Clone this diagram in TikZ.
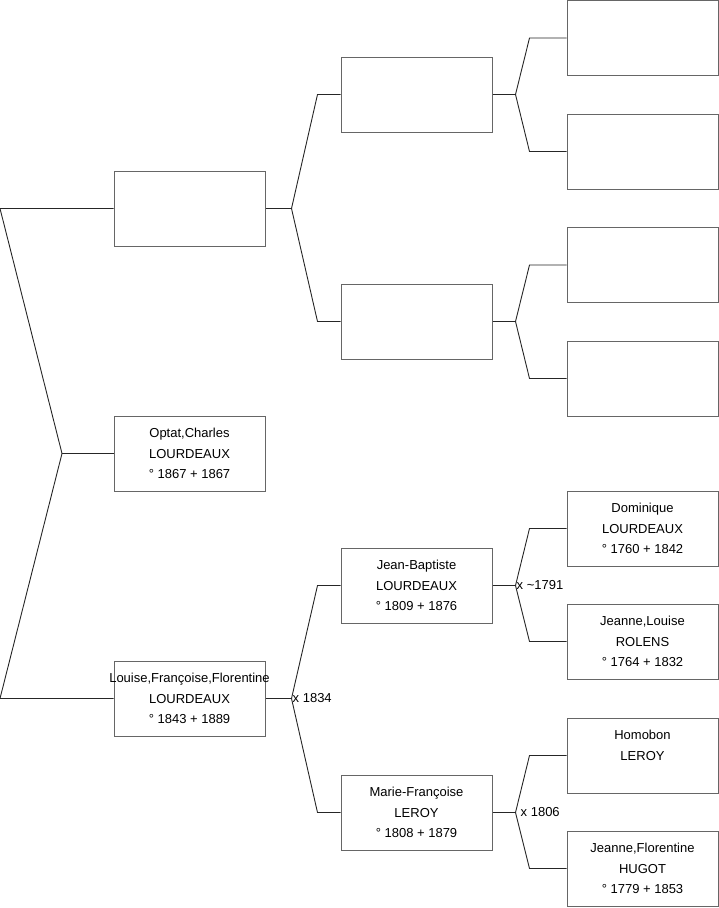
\documentclass[tikz,border=0pt]{standalone}
\usepackage{fontspec}
\setmainfont{Liberation Sans}
\usetikzlibrary{calc}

\begin{document}
\begin{tikzpicture}[
    x=1pt,
    y=-1pt,
    font=\fontsize{13}{20.5}\selectfont,
    person/.style={
      rectangle,
      draw=black!60,
      line width=1pt,
      minimum width=151pt,
      minimum height=75pt,
      align=center,
      inner sep=0pt
    },
    line/.style={draw, black!85, line width=0.9pt},
    union/.style={anchor=west, inner sep=1pt},
]
    \useasboundingbox (0,0) rectangle (719,908);

    % generation 1
    \node [person] (n2) at (189.5,208.5) {};
    \node [person] (n1) at (189.5,453.5) {Optat,Charles\\LOURDEAUX\\° 1867 + 1867};
    \node [person] (n3) at (189.5,698.5) {\makebox[0pt]{Louise,Françoise,Florentine}\\LOURDEAUX\\° 1843 + 1889};

    % generation 2
    \node [person] (n4) at (416.5,94.5) {};
    \node [person] (n5) at (416.5,321.5) {};
    \node [person] (n6) at (416.5,585.5) {Jean-Baptiste\\LOURDEAUX\\° 1809 + 1876};
    \node [person] (n7) at (416.5,812.5) {Marie-Françoise\\LEROY\\° 1808 + 1879};

    % generation 3
    \node [person] (n8) at (642.5,38) {};
    \node [person] (n9) at (642.5,151.5) {};
    \node [person] (n10) at (642.5,265) {};
    \node [person] (n11) at (642.5,378.5) {};
    \node [person] (n12) at (642.5,528.5) {Dominique\\LOURDEAUX\\° 1760 + 1842};
    \node [person] (n13) at (642.5,641.5) {Jeanne,Louise\\ROLENS\\° 1764 + 1832};
    \node [person] (n14) at (642.5,755.5) {Homobon\\LEROY\\\mbox{}};
    \node [person] (n15) at (642.5,868.5) {Jeanne,Florentine\\HUGOT\\° 1779 + 1853};

    % forks
    \coordinate (j1) at (62,453.5);
    \path [line] (n1.west) -- (j1);
    \path [line] (n2.west) -- ([xshift=-113.5pt]n2.west) -- (j1) -- ([xshift=-113.5pt]n3.west) -- (n3.west);

    \coordinate (j2) at ($(n2.east)+(26,0)$);
    \path [line] (n2.east) -- (j2);
    \path [line] (n4.west) -- ([xshift=-23pt]n4.west) -- (j2) -- ([xshift=-23pt]n5.west) -- (n5.west);

    \coordinate (j3) at ($(n3.east)+(26,0)$);
    \path [line] (n3.east) -- (j3);
    \path [line] (n6.west) -- ([xshift=-23pt]n6.west) -- (j3) -- ([xshift=-23pt]n7.west) -- (n7.west);

    \coordinate (j4) at ($(n4.east)+(23,0)$);
    \path [line] (n4.east) -- (j4);
    \path [line] (n8.west) -- ([xshift=-37pt]n8.west) -- (j4) -- ([xshift=-37pt]n9.west) -- (n9.west);

    \coordinate (j5) at ($(n5.east)+(23,0)$);
    \path [line] (n5.east) -- (j5);
    \path [line] (n10.west) -- ([xshift=-37pt]n10.west) -- (j5) -- ([xshift=-37pt]n11.west) -- (n11.west);

    \coordinate (j6) at ($(n6.east)+(23,0)$);
    \path [line] (n6.east) -- (j6);
    \path [line] (n12.west) -- ([xshift=-37pt]n12.west) -- (j6) -- ([xshift=-37pt]n13.west) -- (n13.west);

    \coordinate (j7) at ($(n7.east)+(23,0)$);
    \path [line] (n7.east) -- (j7);
    \path [line] (n14.west) -- ([xshift=-37pt]n14.west) -- (j7) -- ([xshift=-37pt]n15.west) -- (n15.west);

    % marriages
    \node [union] (m3) at (j3) {x 1834};
    \node [union] (m6) at (j6) {x \textasciitilde1791};
    \node [union, xshift=4pt] (m7) at (j7) {x 1806};

\end{tikzpicture}
\end{document}
